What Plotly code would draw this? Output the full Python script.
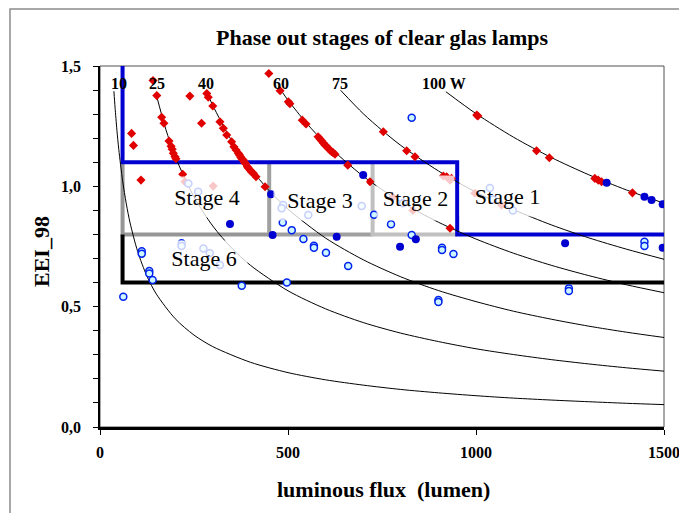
import plotly.graph_objects as go

# ---------------- data ----------------
# iso-wattage curves (luminous flux in lumen, EEI_98)
phi10 = [37, 40, 45, 50, 60, 70, 80, 100, 125, 150, 200, 250, 300, 400, 500, 600, 700, 800, 900, 1000, 1100, 1200, 1300, 1400, 1500]
eei10 = [1.395, 1.329, 1.233, 1.153, 1.025, 0.927, 0.848, 0.730, 0.626, 0.552, 0.450, 0.382, 0.334, 0.269, 0.226, 0.196, 0.174, 0.156, 0.142, 0.130, 0.120, 0.112, 0.105, 0.0985, 0.093]
phi25 = [150, 175, 200, 250, 300, 350, 400, 500, 600, 700, 800, 900, 1000, 1100, 1200, 1300, 1400, 1500]
eei25 = [1.379, 1.237, 1.124, 0.956, 0.835, 0.744, 0.672, 0.566, 0.491, 0.434, 0.390, 0.355, 0.325, 0.301, 0.280, 0.262, 0.246, 0.232]
phi40 = [284, 300, 350, 400, 450, 500, 600, 700, 800, 900, 1000, 1100, 1200, 1300, 1400, 1500]
eei40 = [1.391, 1.336, 1.190, 1.075, 0.982, 0.905, 0.785, 0.695, 0.624, 0.567, 0.521, 0.481, 0.448, 0.419, 0.394, 0.372]
phi60 = [485, 500, 550, 600, 700, 800, 900, 1000, 1100, 1200, 1300, 1400, 1500]
eei60 = [1.391, 1.358, 1.261, 1.178, 1.042, 0.936, 0.851, 0.781, 0.722, 0.672, 0.629, 0.591, 0.558]
phi75 = [640, 700, 750, 800, 900, 1000, 1100, 1200, 1300, 1400, 1500]
eei75 = [1.399, 1.302, 1.233, 1.170, 1.064, 0.976, 0.903, 0.840, 0.786, 0.739, 0.697]
phi100 = [920, 1000, 1100, 1200, 1300, 1400, 1500]
eei100 = [1.393, 1.302, 1.204, 1.120, 1.048, 0.985, 0.930]

curve_labels = ["10", "25", "40", "60", "75", "100 W"]
curve_label_x = [50, 152, 281, 481, 638, 914]
curve_label_y = [1.429, 1.429, 1.429, 1.429, 1.429, 1.429]

# lamp measurements
red_x = [141, 151, 164, 170, 183.5, 189, 192, 195, 199.5, 202, 220, 84, 89, 109, 239, 270, 226, 301,
         284, 288, 300, 319, 328, 337, 350, 356, 362, 368, 371, 374, 377, 381, 384, 387, 392, 395, 399, 403, 408, 415, 439,
         449, 479, 501, 505, 538, 548, 580, 585, 590, 594, 598, 603, 607, 612, 616, 620, 625, 659, 718, 779, 832, 931,
         753.5, 815.6, 837.8, 913, 922, 931, 935, 997, 1068,
         1002, 1005, 1161, 1195, 1316, 1325, 1334, 1416]
red_y = [1.44, 1.377, 1.287, 1.262, 1.188, 1.167, 1.154, 1.137, 1.123, 1.115, 1.050, 1.22, 1.17, 1.026, 1.375, 1.262, 1.019, 1.001,
         1.386, 1.370, 1.334, 1.268, 1.241, 1.213, 1.185, 1.164, 1.151, 1.137, 1.130, 1.122, 1.115, 1.109, 1.100, 1.095, 1.081, 1.075, 1.068, 1.060, 1.054, 1.040, 0.998,
         1.469, 1.397, 1.351, 1.343, 1.275, 1.259, 1.206, 1.197, 1.188, 1.180, 1.172, 1.165, 1.158, 1.150, 1.144, 1.140, 1.133, 1.088, 1.019, 0.955, 0.900, 0.826,
         1.227, 1.148, 1.123, 1.043, 1.040, 1.026, 1.033, 0.971, 0.922,
         1.296, 1.292, 1.148, 1.119, 1.033, 1.026, 1.019, 0.973]

blue_x = [455, 700, 1347.5, 1448, 1467, 1496.5, 1237, 1496.5, 345.7, 459, 629.5, 840, 798]
blue_y = [0.967, 1.047, 1.015, 0.957, 0.943, 0.926, 0.763, 0.745, 0.843, 0.798, 0.791, 0.780, 0.749]

open_x = [829, 1448, 1448, 940, 1247, 1247, 486, 111, 111, 131, 131, 140, 377, 62, 497, 510, 541, 569, 569, 601, 660,
          729, 774, 829, 909.6, 909.6, 900, 900,
          696, 554, 217, 217, 275, 292, 319, 261, 487, 483, 235, 806, 1037, 1045, 1098]
open_y = [1.285, 0.770, 0.752, 0.719, 0.576, 0.565, 0.850, 0.730, 0.720, 0.648, 0.638, 0.611, 0.587, 0.541, 0.600, 0.818, 0.781, 0.753, 0.745, 0.724, 0.669,
          0.882, 0.842, 0.798, 0.745, 0.735, 0.528, 0.519,
          0.918, 0.881, 0.763, 0.752, 0.742, 0.722, 0.673, 0.978, 0.922, 0.909, 1.012, 0.930, 0.993, 0.945, 0.900]

# stage limits
stage1_x = [60, 60, 950, 950, 1500]
stage1_y = [1.5, 1.1, 1.1, 0.8, 0.8]
stage2_x = [725, 725, 950]
stage2_y = [1.1, 0.8, 0.8]
stage3_x = [450, 450, 725]
stage3_y = [1.1, 0.8, 0.8]
stage4_x = [60, 60, 450]
stage4_y = [1.1, 0.8, 0.8]
stage6_x = [60, 60, 1500]
stage6_y = [0.8, 0.6, 0.6]

stage_names = ["Stage 4", "Stage 3", "Stage 2", "Stage 1", "Stage 6"]
stage_label_x = [284.6, 585, 839, 1084, 276.6]
stage_label_y = [0.956, 0.943, 0.951, 0.960, 0.702]

x_tickvals = [0, 500, 1000, 1500]
x_ticktext = ["0", "500", "1000", "1500"]
y_tickvals = [0.0, 0.5, 1.0, 1.5]
y_ticktext = ["0,0", "0,5", "1,0", "1,5"]

# ---------------- figure ----------------
SERIF = "Liberation Serif, Times New Roman, serif"
fig = go.Figure()

for sx, sy, col in [(stage4_x, stage4_y, "#969696"), (stage3_x, stage3_y, "#a0a0a0"),
                    (stage2_x, stage2_y, "#c0c0c0"), (stage6_x, stage6_y, "#000000"),
                    (stage1_x, stage1_y, "#0000d0")]:
    fig.add_trace(go.Scatter(x=sx, y=sy, mode="lines", line=dict(color=col, width=4),
                             hoverinfo="skip", showlegend=False))

for cx, cy in [(phi10, eei10), (phi25, eei25), (phi40, eei40), (phi60, eei60), (phi75, eei75), (phi100, eei100)]:
    fig.add_trace(go.Scatter(x=cx, y=cy, mode="lines", line=dict(color="black", width=1, shape="spline", smoothing=0.8),
                             showlegend=False))

fig.add_trace(go.Scatter(x=red_x, y=red_y, mode="markers",
                         marker=dict(symbol="diamond", size=7, color="#e00000"), showlegend=False))
fig.add_trace(go.Scatter(x=open_x, y=open_y, mode="markers",
                         marker=dict(symbol="circle", size=7, color="#cdf6ff", line=dict(color="#0022ee", width=1.5)),
                         showlegend=False))
fig.add_trace(go.Scatter(x=blue_x, y=blue_y, mode="markers",
                         marker=dict(symbol="circle", size=8, color="#0000d0"), showlegend=False))

annotations = []
for t, x, y in zip(curve_labels, curve_label_x, curve_label_y):
    annotations.append(dict(x=x, y=y, xref="x", yref="y", text="<b>%s</b>" % t, showarrow=False,
                            font=dict(family=SERIF, size=16, color="black")))
box_w = [84, 92, 77, 95, 86]
box_h = [40, 40, 44, 40, 34]
for t, x, y, w, h in zip(stage_names, stage_label_x, stage_label_y, box_w, box_h):
    annotations.append(dict(x=x, y=y, xref="x", yref="y", text=t, showarrow=False,
                            width=w, height=h, borderpad=0, bgcolor="rgba(255,255,255,0.78)",
                            font=dict(family=SERIF, size=22, color="black")))
annotations.append(dict(x=0.5, y=1.080, xref="paper", yref="paper", showarrow=False,
                        xanchor="center", yanchor="middle",
                        text="<b>Phase out stages of clear glas lamps</b>",
                        font=dict(family=SERIF, size=22, color="black")))
annotations.append(dict(x=0.502, y=-0.1745, xref="paper", yref="paper", showarrow=False,
                        xanchor="center", yanchor="middle",
                        text="<b>luminous flux  (lumen)</b>",
                        font=dict(family=SERIF, size=22, color="black")))
annotations.append(dict(x=-0.1028, y=0.4848, xref="paper", yref="paper", showarrow=False, textangle=-90,
                        xanchor="center", yanchor="middle",
                        text="<b>EEI_98</b>",
                        font=dict(family=SERIF, size=22, color="black")))

shapes = [
    dict(type="rect", xref="paper", yref="paper", x0=0, x1=1, y0=0, y1=1,
         line=dict(color="#505050", width=1), layer="below"),
    dict(type="rect", xref="paper", yref="paper", x0=-0.1596, x1=1.2, y0=-0.4, y1=1.158,
         line=dict(color="#8c8c8c", width=1.5), layer="below"),
]

fig.update_layout(
    width=679, height=513,
    margin=dict(l=100, r=15, t=66, b=86, autoexpand=False),
    paper_bgcolor="white", plot_bgcolor="white",
    font=dict(family=SERIF, color="black"),
    showlegend=False,
    annotations=annotations,
    shapes=shapes,
)
fig.update_xaxes(range=[0, 1500], showgrid=False, zeroline=False, automargin=False,
                 showline=True, linecolor="black", linewidth=2.5,
                 ticks="outside", ticklen=5, tickcolor="black", tickwidth=1,
                 tickvals=x_tickvals, ticktext=x_ticktext, ticklabelstandoff=4,
                 ticklabeloverflow="allow",
                 tickfont=dict(family=SERIF, size=16, color="black", weight="bold"))
fig.update_yaxes(range=[0, 1.5], showgrid=False, zeroline=False, automargin=False,
                 showline=True, linecolor="black", linewidth=1.5,
                 ticks="outside", ticklen=5, tickcolor="black", tickwidth=1,
                 tickvals=y_tickvals, ticktext=y_ticktext, ticklabelstandoff=9,
                 minor=dict(dtick=0.1, tick0=0, ticks="outside", ticklen=5, tickcolor="black", showgrid=False),
                 tickfont=dict(family=SERIF, size=16, color="black", weight="bold"))

fig.write_html("out.html")
